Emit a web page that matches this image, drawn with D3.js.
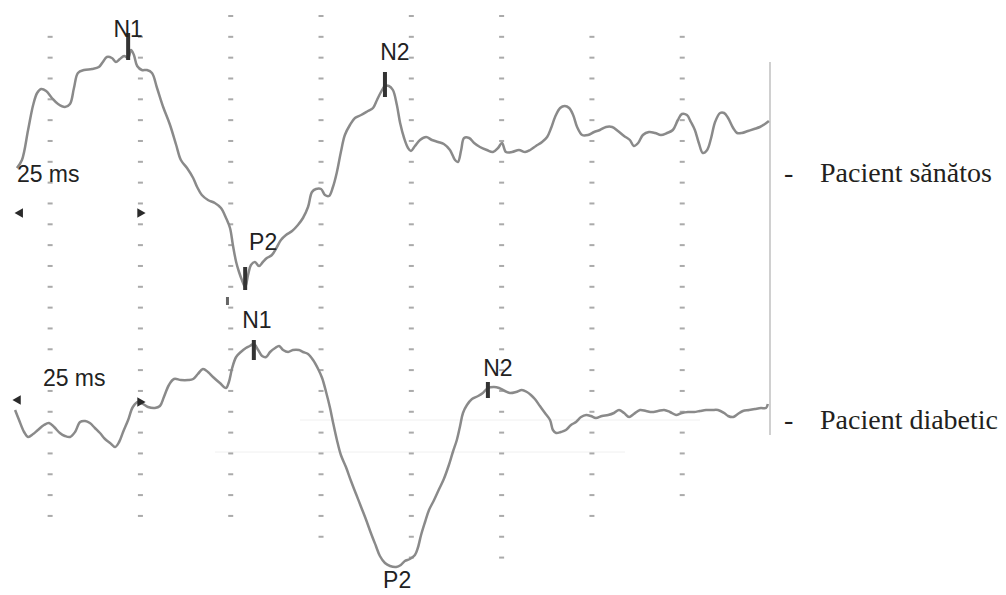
<!DOCTYPE html>
<html>
<head>
<meta charset="utf-8">
<script src="https://cdn.jsdelivr.net/npm/d3@7"></script>
<style>
    body { margin: 0; background: #fff; }
    svg { display: block; }
</style>
</head>
<body>
<div id="chart"></div>
<script>
// time in ms, amplitude in arbitrary uV
var healthyTrace = [
    [0.8, -1.8], [2.2, -1.0], [3.9, 2.0], [5.3, 4.5], [6.4, 5.7], [7.5, 6.1], [8.9, 5.9], [10.5, 5.2],
    [12.2, 4.6], [14.1, 4.3], [15.5, 4.6], [16.6, 6.2], [17.7, 7.7], [19.4, 8.0], [21.6, 8.1], [23.5, 8.3],
    [24.6, 8.8], [25.7, 9.3], [27.1, 9.2], [28.2, 8.8], [29.3, 9.1], [30.5, 9.4], [31.6, 9.2], [32.4, 10.0],
    [33.2, 9.5], [34.1, 8.4], [35.4, 8.0], [36.8, 8.0], [38.2, 7.7], [39.6, 6.2], [41.3, 4.3], [43.2, 2.5],
    [44.9, 0.5], [46.2, -1.0], [47.9, -1.8], [49.6, -2.8], [50.7, -3.7], [52.0, -4.5], [53.7, -5.0], [55.6, -5.3],
    [57.3, -5.8], [58.7, -6.8], [59.8, -7.8], [60.6, -9.5], [61.5, -11.2], [62.3, -12.2], [63.1, -13.0], [64.0, -13.7],
    [64.8, -12.5], [65.6, -11.5], [66.7, -11.2], [67.8, -11.6], [68.9, -11.2], [70.0, -10.8], [71.4, -10.5], [72.8, -9.7],
    [73.9, -9.0], [75.3, -8.5], [77.0, -8.1], [78.6, -7.5], [80.0, -6.8], [81.4, -5.7], [82.5, -4.2], [83.6, -3.9],
    [85.0, -3.9], [86.1, -4.5], [87.2, -4.6], [88.3, -3.7], [89.4, -2.2], [90.5, -0.2], [91.6, 1.5], [93.0, 2.5],
    [94.4, 3.2], [96.1, 3.5], [98.0, 3.9], [99.4, 4.2], [100.5, 5.0], [101.6, 5.8], [102.7, 6.4], [103.8, 6.4],
    [104.9, 6.0], [106.0, 4.5], [106.9, 2.7], [108.0, 1.2], [109.1, 0.2], [109.9, -0.1], [111.0, 0.4], [112.4, 1.0],
    [114.1, 1.3], [115.7, 1.0], [117.4, 0.8], [119.0, 0.6], [120.7, 0.0], [122.1, -1.0], [122.9, -1.2], [123.8, 0.0],
    [124.6, 1.2], [126.0, 1.2], [127.4, 0.7], [129.0, 0.3], [130.9, 0.0], [132.6, -0.2], [134.0, 0.2], [135.1, 0.7],
    [136.2, -0.2], [137.9, -0.2], [139.8, 0.0], [141.5, -0.2], [142.9, 0.0], [144.5, 0.4], [146.2, 0.8], [147.6, 1.3],
    [148.7, 2.2], [149.8, 3.3], [151.2, 4.2], [152.5, 4.4], [153.7, 4.2], [154.8, 3.5], [155.9, 2.3], [157.3, 1.5],
    [158.9, 1.5], [160.6, 1.8], [162.2, 2.0], [163.9, 2.3], [165.6, 2.3], [167.2, 1.9], [168.9, 1.4], [170.5, 1.0],
    [171.6, 0.4], [172.8, 0.7], [174.1, 1.5], [175.8, 1.8], [177.5, 1.7], [179.1, 1.5], [180.8, 1.7], [182.4, 2.0],
    [183.8, 3.0], [184.9, 3.6], [186.3, 3.5], [187.4, 2.8], [188.5, 2.0], [189.6, 0.7], [190.7, -0.3], [191.9, 0.0],
    [193.0, 1.2], [194.1, 2.8], [195.5, 3.7], [196.6, 3.7], [197.7, 3.2], [199.1, 2.2], [200.2, 1.7], [201.5, 1.7],
    [203.2, 1.9], [204.9, 2.1], [206.5, 2.3], [207.9, 2.6], [209.0, 2.9]
];

var diabeticTrace = [
    [0.3, 0.0], [1.4, -1.0], [2.8, -2.2], [3.9, -2.7], [5.3, -2.4], [6.6, -2.0], [8.3, -1.5], [9.7, -1.3],
    [11.1, -1.7], [12.7, -2.3], [14.1, -2.6], [15.5, -2.7], [16.9, -2.2], [18.3, -1.2], [19.7, -1.1], [21.0, -1.3],
    [22.4, -1.8], [23.8, -2.3], [25.2, -2.9], [26.6, -3.3], [28.0, -3.7], [29.1, -3.2], [30.2, -2.2], [31.6, -1.0],
    [32.9, 0.3], [34.3, 0.8], [35.7, 0.6], [37.1, 0.3], [39.0, 0.2], [40.4, 0.4], [41.5, 1.3], [42.9, 2.5],
    [44.3, 3.1], [46.2, 3.0], [48.2, 3.0], [49.6, 3.1], [50.9, 3.6], [52.3, 4.1], [53.7, 3.8], [55.1, 3.3],
    [57.0, 2.7], [58.7, 2.2], [59.5, 2.8], [60.4, 4.2], [61.5, 5.3], [62.8, 5.8], [64.2, 6.2], [65.3, 6.4],
    [66.4, 6.6], [67.6, 6.0], [68.7, 5.4], [69.8, 5.3], [70.9, 5.8], [72.3, 6.2], [73.4, 6.4], [74.5, 6.0],
    [75.9, 5.8], [77.2, 6.0], [78.9, 6.0], [80.0, 5.8], [81.4, 5.6], [82.8, 5.0], [84.2, 4.1], [85.3, 3.2],
    [86.4, 1.8], [87.5, 0.2], [88.3, -1.2], [89.4, -3.0], [90.5, -4.5], [91.9, -5.7], [93.3, -7.1], [94.7, -8.4],
    [96.1, -9.7], [97.5, -11.0], [98.8, -12.3], [100.2, -13.6], [101.3, -14.6], [102.7, -15.3], [104.1, -15.6], [105.8, -15.7],
    [107.1, -15.5], [108.2, -15.1], [109.6, -14.9], [111.0, -14.5], [111.8, -13.8], [112.7, -12.5], [113.8, -11.2], [114.9, -10.0],
    [116.3, -9.0], [117.7, -7.9], [119.0, -6.9], [120.4, -5.5], [121.5, -4.2], [122.6, -3.0], [123.5, -1.6], [124.3, -0.3],
    [125.4, 0.5], [126.8, 1.1], [128.5, 1.4], [129.8, 1.7], [131.2, 2.2], [132.9, 2.3], [134.3, 2.2], [135.9, 1.9],
    [137.3, 1.7], [139.0, 1.8], [140.6, 2.0], [142.0, 1.8], [143.1, 1.5], [144.2, 1.1], [145.6, 0.4], [147.0, -0.3],
    [148.4, -1.0], [149.2, -2.0], [150.1, -2.3], [151.4, -2.2], [152.8, -2.0], [154.2, -1.5], [155.6, -1.2], [157.0, -0.7],
    [158.4, -0.5], [159.7, -0.6], [161.1, -0.8], [162.8, -0.6], [164.5, -0.5], [166.1, -0.3], [167.5, 0.0], [168.9, -0.3],
    [170.3, -0.7], [171.6, -0.4], [173.3, 0.0], [175.0, -0.1], [176.6, -0.2], [178.3, -0.1], [180.0, 0.0], [181.6, -0.2],
    [183.3, -0.5], [184.9, -0.3], [186.6, -0.2], [188.3, -0.2], [189.9, -0.1], [191.6, 0.0], [193.2, 0.0], [194.9, 0.0],
    [196.6, -0.3], [197.7, -0.6], [199.1, -0.7], [200.4, -0.4], [201.8, -0.1], [203.5, 0.0], [205.1, 0.1], [206.8, 0.2],
    [208.2, 0.2], [208.7, 0.6]
];

// peak cursors: name, time, bar top, bar bottom (null = label only)
var healthyPeaks = [["N1", 31.6, 11.7, 9.0], ["P2", 64.0, -11.7, -14.0], ["N2", 102.7, 7.8, 5.3]];
var diabeticPeaks = [["N1", 66.4, 7.0, 5.0], ["P2", 105.8, -15.7, null], ["N2", 131.2, 2.8, 1.2]];

var seriesNames = ["Pacient s\u0103n\u0103tos", "Pacient diabetic"];
var scaleLabel = "25 ms";
var gridTimes = [10, 35, 60, 85, 110, 135, 160, 185];
var gridFirstRow = [1, 1, 0, 0, 0, 0, 1, 1];
var gridLastRow = [24, 24, 24, 25, 26, 26, 24, 23];

var drawErg = (function () {
    const width = 1006;
    const height = 595;
    const pxPerMs = 3.612;
    const pxPerUv = 10;

    var x = d3.scaleLinear().domain([0, 210]).range([14, 14 + 210 * pxPerMs]);
    var gridY = d3.scaleLinear().domain([0, 26]).range([16, 16 + 26 * 20.83]);

    function traceScale(baseline) {
        return d3.scaleLinear().domain([-20, 20]).range([baseline + 20 * pxPerUv, baseline - 20 * pxPerUv]);
    }

    var yTop = traceScale(150);
    var yLow = traceScale(410);

    // label offsets from the cursor bar top (dx, dy)
    var labelOffsets = {
        top: { N1: [0, 4], P2: [18, -17], N2: [10, -12] },
        low: { N1: [3, -12], P2: [1, 21], N2: [10, -6] }
    };

    function buildSvg() {
        var svg = d3.select("#chart").append("svg")
            .attr("width", width)
            .attr("height", height);

        svg.append("rect")
            .attr("width", width)
            .attr("height", height)
            .attr("fill", "#fff");

        // faint scan lines
        svg.append("line")
            .attr("x1", 300).attr("x2", 700).attr("y1", yLow(-1)).attr("y2", yLow(-1))
            .attr("stroke", "#f0f0f0").attr("stroke-width", 1);
        svg.append("line")
            .attr("x1", 215).attr("x2", 625).attr("y1", yLow(-4.2)).attr("y2", yLow(-4.2))
            .attr("stroke", "#f0f0f0").attr("stroke-width", 1);

        drawGrid(svg);

        svg.append("line")
            .attr("x1", x(209.3)).attr("x2", x(209.3))
            .attr("y1", yTop(8.8)).attr("y2", yLow(-2.5))
            .attr("stroke", "#c4c4c4")
            .attr("stroke-width", 1.6);

        drawTrace(svg, healthyTrace, yTop);
        drawTrace(svg, diabeticTrace, yLow);

        drawCursors(svg, healthyPeaks, yTop, labelOffsets.top);
        drawCursors(svg, diabeticPeaks, yLow, labelOffsets.low);

        drawScaleMarks(svg);
        drawLegend(svg);
    }

    function drawGrid(svg) {
        var dots = [];
        gridTimes.forEach(function (t, i) {
            for (var r = gridFirstRow[i]; r <= gridLastRow[i]; r++) {
                dots.push({ t: t, r: r });
            }
        });

        svg.append("g")
            .selectAll("rect")
            .data(dots)
            .enter()
            .append("rect")
            .attr("x", function (d) { return x(d.t) - 2.5 })
            .attr("y", function (d) { return gridY(d.r) - 1 })
            .attr("width", 5)
            .attr("height", 2)
            .attr("fill", "#aaa");
    }

    function drawTrace(svg, data, y) {
        var line = d3.line()
            .x(function (d) { return x(d[0]) })
            .y(function (d) { return y(d[1]) })
            .curve(d3.curveCatmullRom.alpha(0.5));

        svg.append("path")
            .datum(data)
            .attr("d", line)
            .attr("fill", "none")
            .attr("stroke", "#8a8a8a")
            .attr("stroke-width", 2.5)
            .attr("stroke-linejoin", "round");
    }

    function drawCursors(svg, peaks, y, offsets) {
        var g = svg.append("g");

        g.selectAll("rect")
            .data(peaks.filter(function (d) { return d[3] !== null }))
            .enter()
            .append("rect")
            .attr("x", function (d) { return x(d[1]) - 2 })
            .attr("y", function (d) { return y(d[2]) })
            .attr("width", 4)
            .attr("height", function (d) { return y(d[3]) - y(d[2]) })
            .attr("fill", "#333");

        g.selectAll("text")
            .data(peaks)
            .enter()
            .append("text")
            .attr("x", function (d) { return x(d[1]) + offsets[d[0]][0] })
            .attr("y", function (d) { return y(d[2]) + offsets[d[0]][1] })
            .attr("text-anchor", "middle")
            .style("font-family", "'Liberation Sans', Arial, sans-serif")
            .style("font-size", "23px")
            .style("fill", "#222")
            .text(function (d) { return d[0] });
    }

    function drawScaleMarks(svg) {
        var arrows = [
            { t: 1.7, v: -6.3, y: yTop, rot: -90 },
            { t: 34.9, v: -6.3, y: yTop, rot: 90 },
            { t: 1.1, v: 1.0, y: yLow, rot: -90 },
            { t: 34.9, v: 0.8, y: yLow, rot: 90 }
        ];

        svg.append("g")
            .selectAll("path")
            .data(arrows)
            .enter()
            .append("path")
            .attr("d", d3.symbol().type(d3.symbolTriangle).size(40))
            .attr("transform", function (d) {
                return "translate(" + x(d.t) + "," + d.y(d.v) + ") rotate(" + d.rot + ")";
            })
            .attr("fill", "#2a2a2a");

        svg.append("rect")
            .attr("x", x(59.1) - 1.5)
            .attr("y", yTop(-14.7))
            .attr("width", 3)
            .attr("height", 8)
            .attr("fill", "#666");

        svg.append("text")
            .attr("x", x(0.8))
            .attr("y", yTop(-3.2))
            .style("font-family", "'Liberation Sans', Arial, sans-serif")
            .style("font-size", "23px")
            .style("fill", "#222")
            .text(scaleLabel);

        svg.append("text")
            .attr("x", x(8.0))
            .attr("y", yLow(2.4))
            .style("font-family", "'Liberation Sans', Arial, sans-serif")
            .style("font-size", "23px")
            .style("fill", "#222")
            .text(scaleLabel);
    }

    function drawLegend(svg) {
        var rows = [yTop(-3.2), yLow(-1.9)];

        var legend = svg.append("g")
            .style("font-family", "'Liberation Serif', 'Times New Roman', serif")
            .style("font-size", "28px")
            .style("fill", "#231f20");

        legend.selectAll("text.dash")
            .data(seriesNames)
            .enter()
            .append("text")
            .attr("class", "dash")
            .attr("x", 784)
            .attr("y", function (d, i) { return rows[i] })
            .text("-");

        legend.selectAll("text.name")
            .data(seriesNames)
            .enter()
            .append("text")
            .attr("class", "name")
            .attr("x", 820)
            .attr("y", function (d, i) { return rows[i] })
            .text(function (d) { return d });
    }

    document.addEventListener("DOMContentLoaded", function (event) {
        buildSvg();
    });
}());
</script>
</body>
</html>
